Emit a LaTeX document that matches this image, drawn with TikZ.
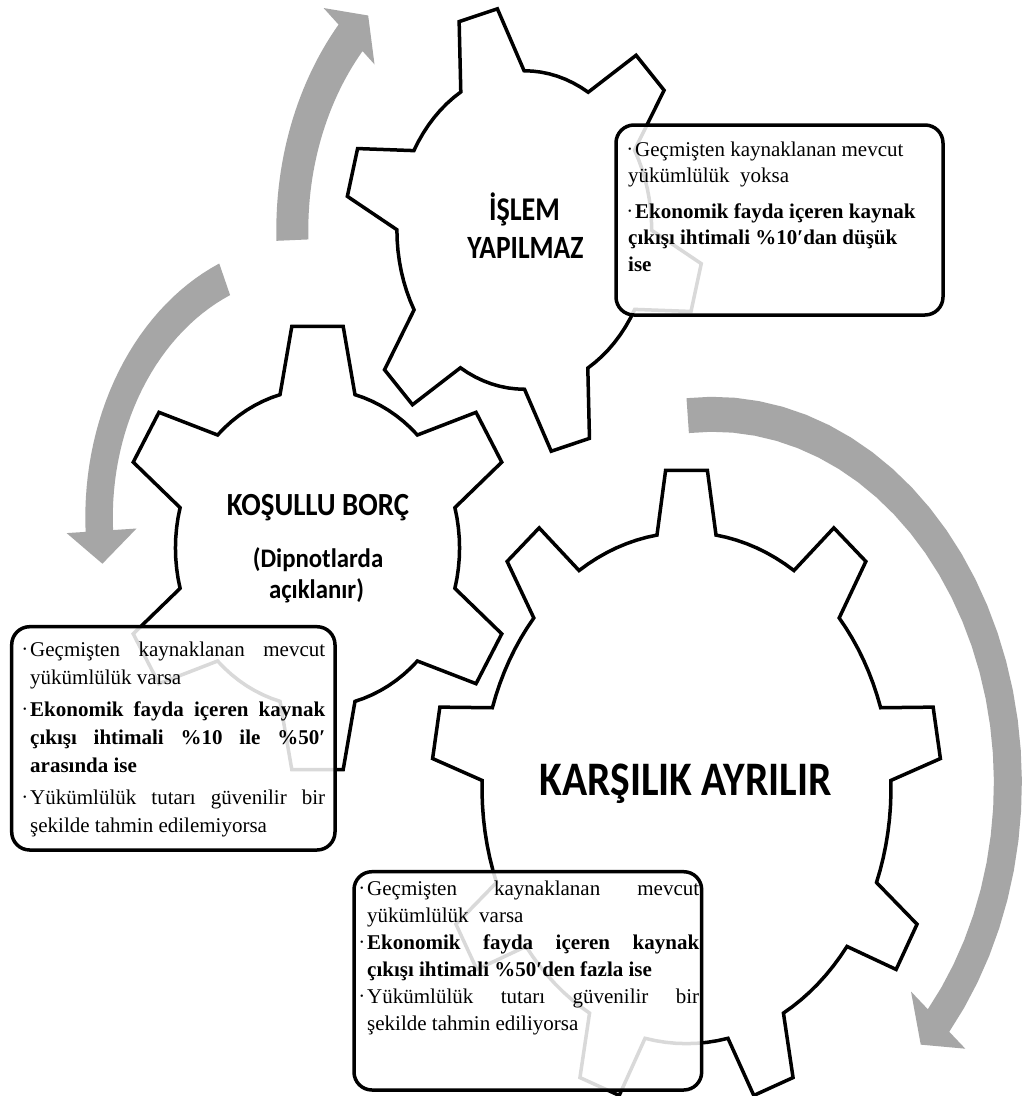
\documentclass[tikz,border=0pt]{standalone}
\usepackage{fontspec}
\setmainfont{Liberation Serif}
\newfontfamily\carl{Carlito}
\definecolor{arrowgray}{RGB}{166,166,166}
\tikzset{
  gearline/.style={draw=black, line width=3.5pt, fill=white, line join=miter, line cap=round},
  infobox/.style={draw=black, line width=3.5pt, rounded corners=18pt, fill=white, fill opacity=0.85, inner sep=0pt},
  arrowfill/.style={fill=arrowgray},
  bodytext/.style={anchor=base west, inner sep=0pt},
  headtext/.style={anchor=base, inner sep=0pt},
}
% gear: set \gcx \gcy \gsx \gsy \gn \gph \grt \grr \gat \gar then \drawgear
\newcommand\drawgear{%
  \pgfmathsetmacro\gstep{360/\gn}%
  \pgfmathtruncatemacro\gnm{\gn-1}%
  \draw[gearline] ({\gcx+\gsx*\grr*cos(\gph-\gstep/2)},{\gcy-\gsy*\grr*sin(\gph-\gstep/2)})
    \foreach \k in {0,...,\gnm}{
      \foreach \j in {1,...,4}{
        -- ({\gcx+\gsx*\grr*cos(\gph+\k*\gstep-\gstep/2+\j*(\gstep/2-\gar)/4)},{\gcy-\gsy*\grr*sin(\gph+\k*\gstep-\gstep/2+\j*(\gstep/2-\gar)/4)})
      }
      -- ({\gcx+\gsx*\grt*cos(\gph+\k*\gstep-\gat)},{\gcy-\gsy*\grt*sin(\gph+\k*\gstep-\gat)})
      -- ({\gcx+\gsx*\grt*cos(\gph+\k*\gstep+\gat)},{\gcy-\gsy*\grt*sin(\gph+\k*\gstep+\gat)})
      \foreach \j in {0,...,4}{
        -- ({\gcx+\gsx*\grr*cos(\gph+\k*\gstep+\gar+\j*(\gstep/2-\gar)/4)},{\gcy-\gsy*\grr*sin(\gph+\k*\gstep+\gar+\j*(\gstep/2-\gar)/4)})
      }
    };
}
% circular arrow: cx cy rin rout a0 a1 atip rbarbin rbarbout
\newcommand\cirarrow[9]{%
  \fill[arrowfill] ({#1+#4*cos(#5)},{#2-1.25*#4*sin(#5)})
    \foreach \j in {1,...,30}{ -- ({#1+#4*cos(#5+(#6-(#5))*\j/30)},{#2-1.25*#4*sin(#5+(#6-(#5))*\j/30)}) }
    -- ({#1+#9*cos(#6)},{#2-1.25*#9*sin(#6)})
    -- ({#1+(#3+#4)/2*cos(#7)},{#2-1.25*(#3+#4)/2*sin(#7)})
    -- ({#1+#8*cos(#6)},{#2-1.25*#8*sin(#6)})
    \foreach \j in {0,...,30}{ -- ({#1+#3*cos(#6+(#5-(#6))*\j/30)},{#2-1.25*#3*sin(#6+(#5-(#6))*\j/30)}) }
    -- cycle;
}
\newcommand\bul{\makebox[7pt][l]{\raisebox{3.2pt}{\fontsize{10}{10}\selectfont •}}}
\newcommand\hang{\hangindent=7pt\hangafter=1 }
\newcommand\headfont[1]{\carl\bfseries\fontsize{#1}{#1}\selectfont}
\begin{document}
\begin{tikzpicture}[x=1pt,y=-1pt]
\useasboundingbox (0,0) rectangle (1025,1096);
\fill[white] (0,0) rectangle (1025,1096);

% arrows
\cirarrow{524.3}{230}{216}{248}{182}{138.5}{132.3}{200}{268}
\cirarrow{306.3}{517.4}{193.5}{221}{113.2}{183}{190.3}{170}{240}
\cirarrow{712.9}{783}{281}{309}{94.9}{-40.1}{-45.2}{259}{330}

% gear 1 (top)
\def\gcx{524.3}\def\gcy{230}\def\gsx{1}\def\gsy{1.25}\def\gn{6}\def\gph{105}
\def\grt{179}\def\grr{127.4}\def\gat{6.35}\def\gar{14.9}
\drawgear
% gear 2 (left)
\def\gcx{317.5}\def\gcy{548}\def\gsx{1.115}\def\gsy{1.248}\def\gn{6}\def\gph{90}
\def\grt{179}\def\grr{127.4}\def\gat{7.4}\def\gar{15.3}
\drawgear
% gear 3 (big)
\def\gcx{686.5}\def\gcy{788}\def\gsx{1}\def\gsy{1.25}\def\gn{9}\def\gph{90}
\def\grt{255}\def\grr{204.5}\def\gat{4.7}\def\gar{8.3}
\drawgear

% boxes
\node[infobox, minimum width=327pt, minimum height=190pt] (b1) at (779.5,220) {};
\node[infobox, minimum width=323.3pt, minimum height=223.3pt] (b2) at (173.35,738.35) {};
\node[infobox, minimum width=347.7pt, minimum height=218.3pt] (b3) at (527.85,980.85) {};

% box texts
\node[bodytext] (t1) at (628,156) {\parbox[t]{300pt}{\fontsize{21}{26.5}\selectfont\raggedright\setlength\parskip{9pt}%
\hang\bul Geçmişten kaynaklanan mevcut\\ yükümlülük\ \ yoksa\par
\hang\bul\textbf{Ekonomik fayda içeren kaynak\\ çıkışı ihtimali \%10′dan düşük\\ ise}\par}};

\node[bodytext] (t2) at (23,656) {\parbox[t]{302pt}{\fontsize{21}{28}\selectfont\tolerance=10000\hbadness=10000\setlength\parskip{4pt}%
\hang\bul Geçmişten kaynaklanan mevcut\linebreak yükümlülük varsa\par
\hang\bul\textbf{Ekonomik fayda içeren kaynak\linebreak çıkışı ihtimali \%10 ile \%50′\linebreak arasında ise}\par
\hang\bul Yükümlülük tutarı güvenilir bir\linebreak şekilde tahmin edilemiyorsa\par}};

\node[bodytext] (t3) at (360,895) {\parbox[t]{339pt}{\fontsize{21}{27}\selectfont\tolerance=10000\hbadness=10000\setlength\parskip{0pt}%
\hang\bul Geçmişten kaynaklanan mevcut\linebreak yükümlülük\ \ varsa\par
\hang\bul\textbf{Ekonomik fayda içeren kaynak\linebreak çıkışı ihtimali \%50′den fazla ise}\par
\hang\bul Yükümlülük tutarı güvenilir bir\linebreak şekilde tahmin ediliyorsa\par}};

% gear titles
\node[headtext] (h1a) at (524.5,220) {\scalebox{1}[1.18]{\headfont{28.1}İŞLEM}};
\node[headtext] (h1b) at (525.5,258) {\scalebox{1}[1.18]{\headfont{27.5}YAPILMAZ}};
\node[headtext] (h2a) at (318,515) {\scalebox{1}[1.12]{\headfont{28.8}KOŞULLU BORÇ}};
\node[headtext] (h2b) at (318,567) {\scalebox{1}[1.08]{\headfont{24.8}(Dipnotlarda}};
\node[headtext] (h2c) at (316.5,598.5) {\scalebox{1}[1.08]{\headfont{24.8}açıklanır)}};
\node[headtext] (h3) at (685.5,795) {\scalebox{1}[1.16]{\headfont{41.5}KARŞILIK AYRILIR}};
\end{tikzpicture}
\end{document}
